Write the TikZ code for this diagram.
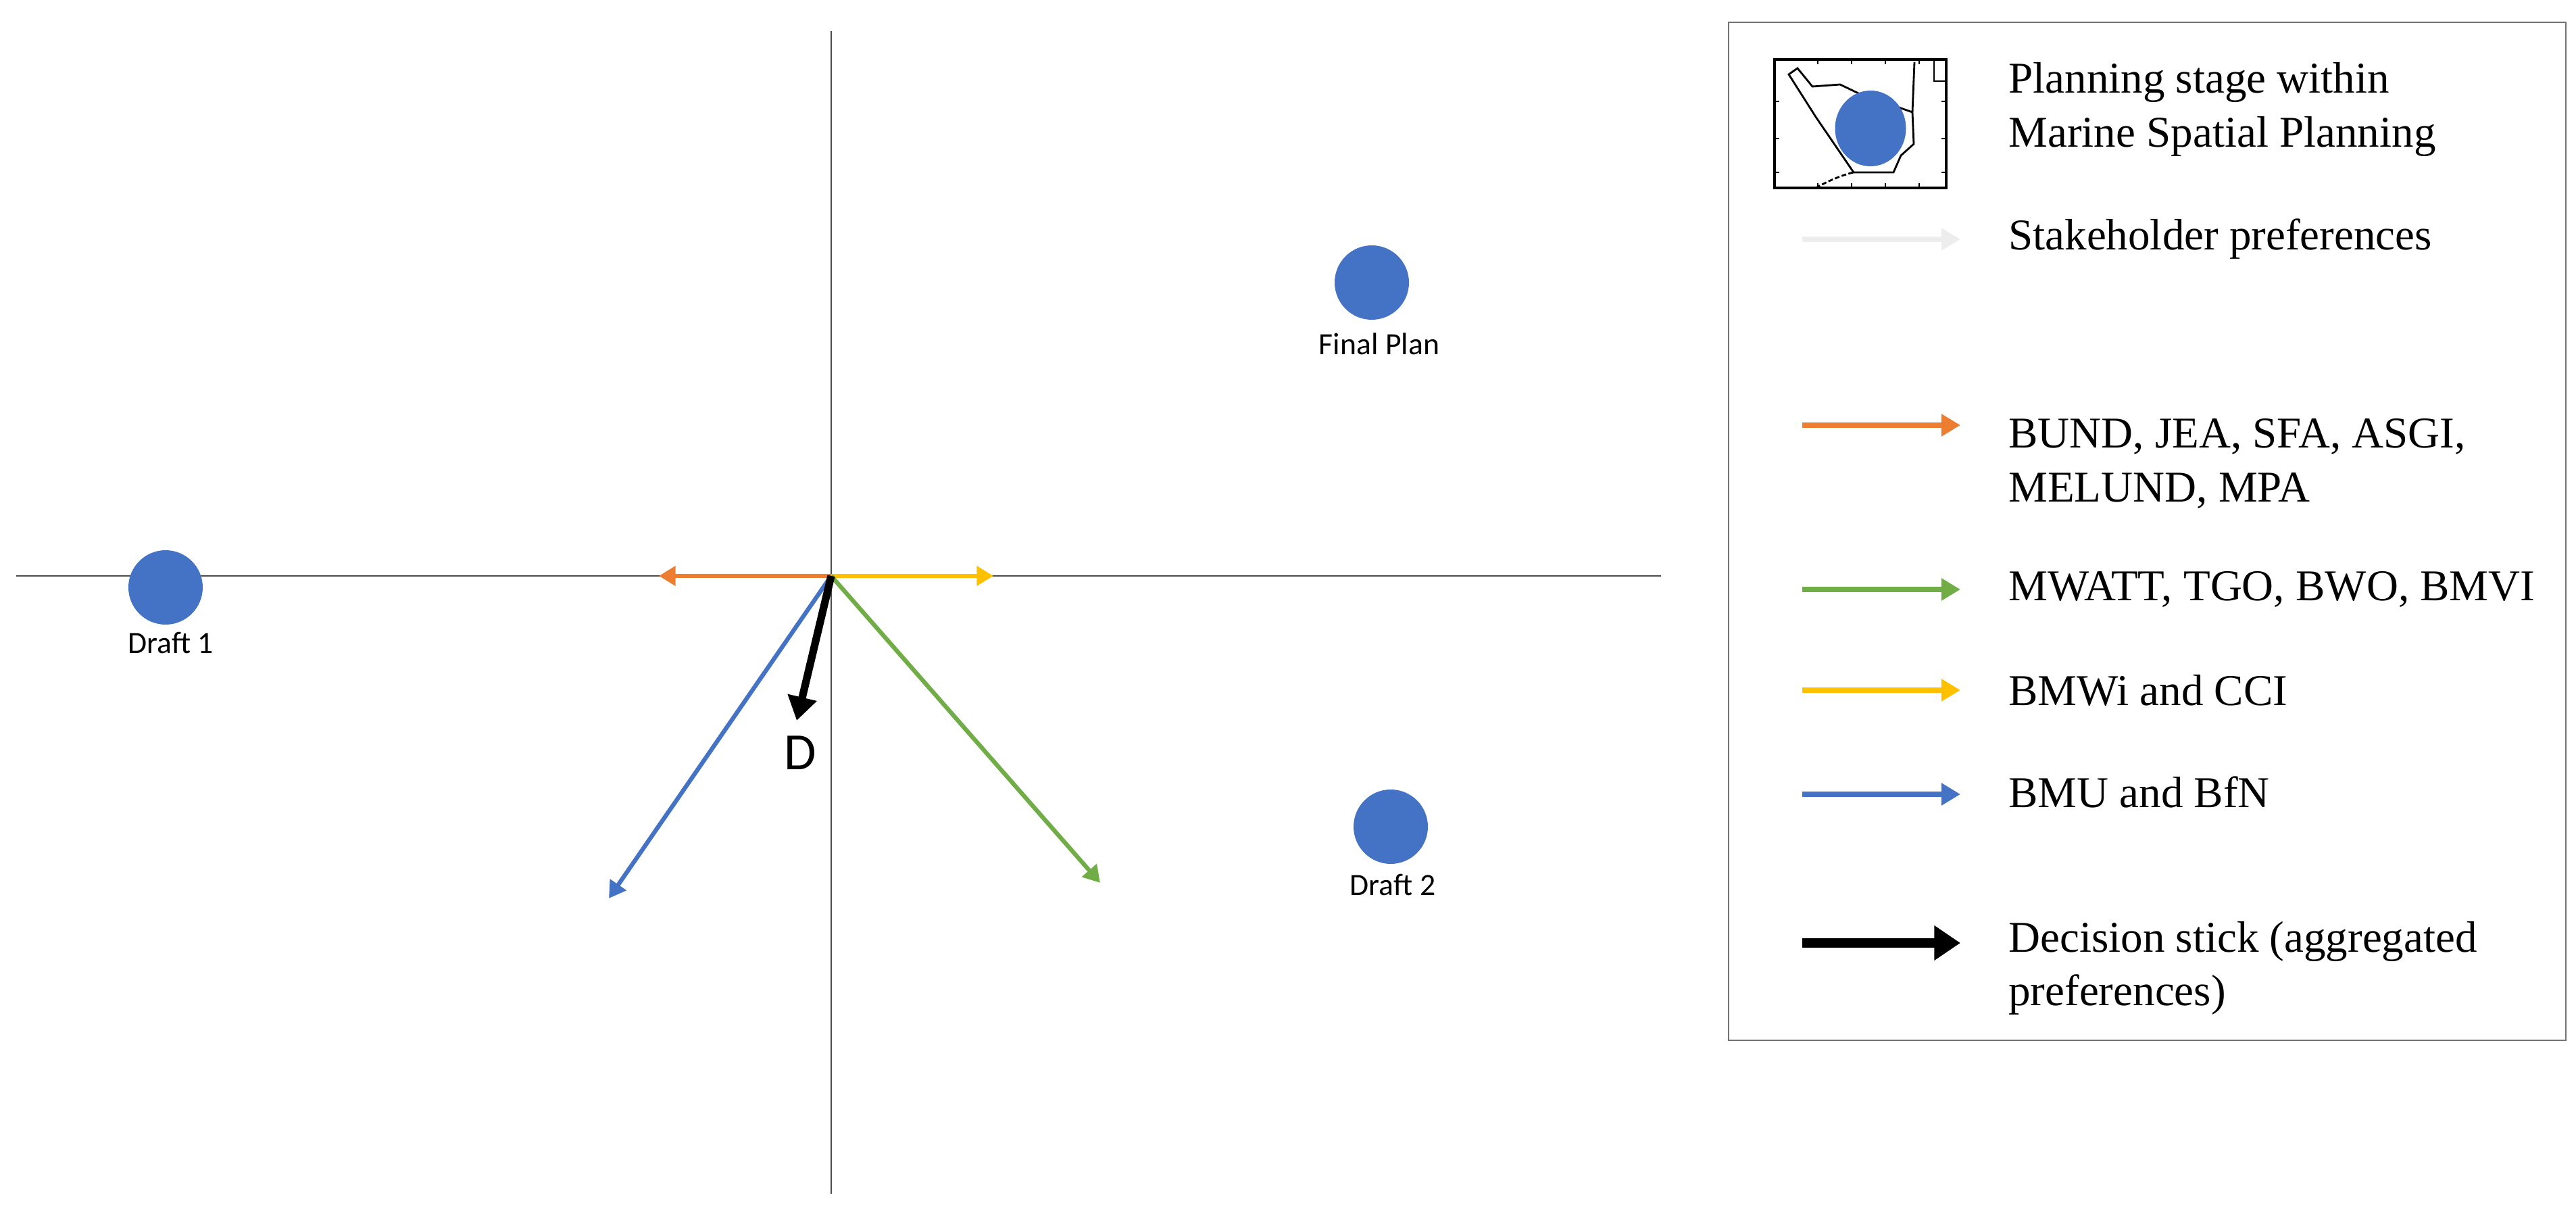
\documentclass[tikz,border=0pt]{standalone}
\usepackage{fontspec}
\setmainfont{Liberation Serif}
\newfontfamily\calfont{Carlito}
\usetikzlibrary{arrows.meta,shapes.geometric}
\definecolor{dotblue}{HTML}{4472C4}
\definecolor{orng}{HTML}{ED7D31}
\definecolor{grn}{HTML}{70AD47}
\definecolor{yel}{HTML}{FFC000}
\definecolor{lgray}{HTML}{EDEDED}
\begin{document}
\begin{tikzpicture}[x=1cm,y=-1cm,
  dot/.style={circle,fill=dotblue,minimum size=1.1cm,inner sep=0pt},
  lab/.style={font=\calfont\fontsize{13}{15}\selectfont},
  axis/.style={draw=black!70,line width=0.5pt},
  vec/.style={line width=1.8pt,-{Triangle[length=7pt,width=8pt]}},
  lvec/.style={line width=2.2pt,-{Triangle[length=8pt,width=9pt]}},
  leg/.style={anchor=west,align=left,font=\fontsize{18.5}{22.5}\selectfont}]
\useasboundingbox (0,0) rectangle (38.12,17.93);
% axes
\coordinate (O) at (12.30,8.52);
\coordinate (xl) at (0.24,8.52); \coordinate (xr) at (24.58,8.52);
\coordinate (yt) at (12.30,0.46); \coordinate (yb) at (12.30,17.66);
\draw[axis] (xl) -- (xr);
\draw[axis] (yt) -- (yb);
% plans
\node[dot] (d1) at (2.45,8.69) {};
\node[lab] (d1l) at (2.53,9.51) {Draft 1};
\node[dot] (fp) at (20.30,4.18) {};
\node[lab] (fpl) at (20.41,5.09) {Final Plan};
\node[dot] (d2) at (20.58,12.23) {};
\node[lab] (d2l) at (20.61,13.09) {Draft 2};
% vectors
\coordinate (eo) at (9.75,8.52);
\coordinate (ey) at (14.70,8.52);
\coordinate (eb) at (9.01,13.29);
\coordinate (eg) at (16.28,13.06);
\coordinate (ed) at (11.79,10.66);
\draw[vec,orng] (O) -- (eo);
\draw[vec,yel] (O) -- (ey);
\draw[vec,dotblue] (O) -- (eb);
\draw[vec,grn] (O) -- (eg);
\draw[line width=3.2pt,-{Triangle[length=10pt,width=12pt]}] (O) -- (ed);
\node[font=\calfont\fontsize{22}{26}\selectfont] (D) at (11.84,11.14) {D};
% legend box
\draw[draw=black!55,line width=0.6pt] (25.58,0.33) rectangle (37.97,15.39);
% icon
\draw[line width=1.2pt] (26.26,0.88) rectangle (28.80,2.78);
\foreach \t in {26.9,27.4,27.9,28.4}{\draw (\t,0.88) -- (\t,0.95); \draw (\t,2.78) -- (\t,2.71);}
\foreach \t in {1.5,2.05,2.55}{\draw (26.26,\t) -- (26.33,\t); \draw (28.80,\t) -- (28.73,\t);}
\draw[line width=0.8pt] (26.47,1.10) -- (26.60,1.01) -- (26.82,1.28) -- (27.23,1.25) -- (27.50,1.38) -- (28.13,1.60) -- (28.30,1.66) -- (28.32,2.13) -- (28.13,2.30) -- (28.02,2.55) -- (27.43,2.55) -- (26.87,1.73) -- cycle;
\draw[line width=0.8pt] (28.33,0.92) -- (28.30,1.66);
\draw[line width=0.8pt] (28.62,0.90) -- (28.62,1.20) -- (28.80,1.20);
\draw[line width=0.8pt,dash pattern=on 2pt off 1pt] (26.87,2.78) .. controls (27.1,2.65) and (27.3,2.58) .. (27.43,2.55);
\node[fill=dotblue,ellipse,minimum width=1.05cm,minimum height=1.12cm,inner sep=0pt] (ic) at (27.68,1.90) {};
% legend arrows
\coordinate (s1) at (26.67,3.54); \coordinate (t1) at (29.01,3.54);
\coordinate (s2) at (26.67,6.29); \coordinate (t2) at (29.01,6.29);
\coordinate (s3) at (26.67,8.72); \coordinate (t3) at (29.01,8.72);
\coordinate (s4) at (26.67,10.21); \coordinate (t4) at (29.01,10.21);
\coordinate (s5) at (26.67,11.75); \coordinate (t5) at (29.01,11.75);
\coordinate (s6) at (26.67,13.95); \coordinate (t6) at (29.01,13.95);
\draw[lvec,lgray] (s1) -- (t1);
\draw[lvec,orng] (s2) -- (t2);
\draw[lvec,grn] (s3) -- (t3);
\draw[lvec,yel] (s4) -- (t4);
\draw[lvec,dotblue] (s5) -- (t5);
\draw[line width=4pt,-{Triangle[length=11pt,width=14pt]}] (s6) -- (t6);
% legend texts
\node[leg] (L1) at (29.60,1.62) {Planning stage within\\Marine Spatial Planning};
\node[leg] (L2) at (29.60,3.54) {Stakeholder preferences};
\node[leg] (L3) at (29.60,6.86) {BUND, JEA, SFA, ASGI,\\MELUND, MPA};
\node[leg] (L4) at (29.60,8.72) {MWATT, TGO, BWO, BMVI};
\node[leg] (L5) at (29.60,10.21) {BMWi and CCI};
\node[leg] (L6) at (29.60,11.72) {BMU and BfN};
\node[leg] (L7) at (29.60,14.32) {Decision stick (aggregated\\preferences)};
\end{tikzpicture}
\end{document}
